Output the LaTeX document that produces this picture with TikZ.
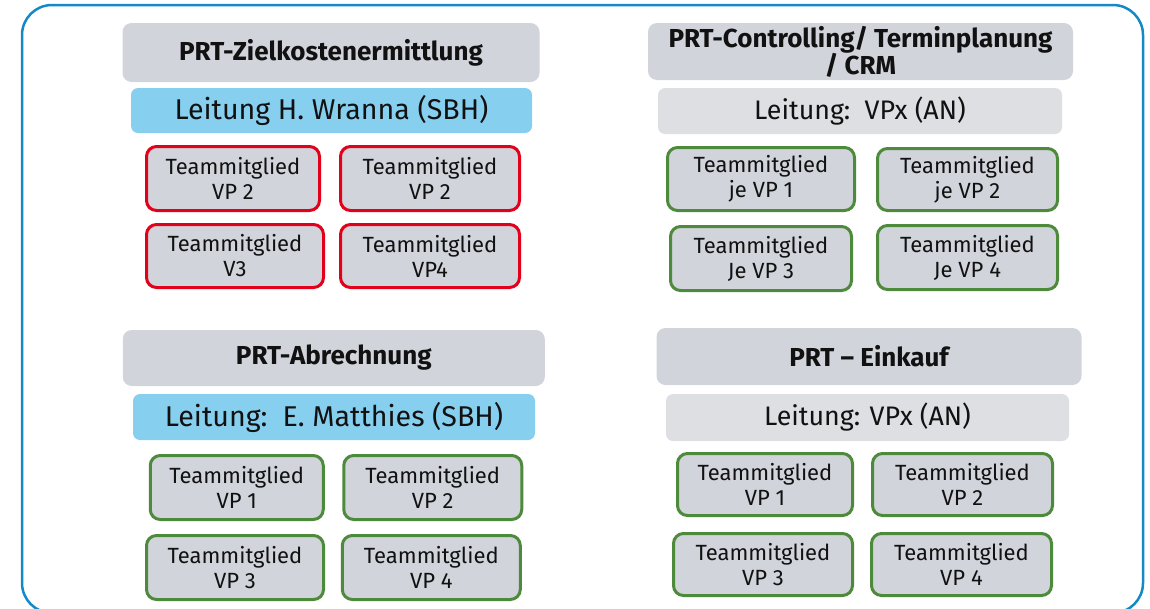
\documentclass[tikz,border=0pt]{standalone}
\usepackage{fontspec}
\setmainfont{Fira Sans}
\definecolor{framebl}{HTML}{1589C5}
\definecolor{headgray}{HTML}{D1D4DB}
\definecolor{leadblue}{HTML}{87CFEF}
\definecolor{leadgray}{HTML}{DDDFE3}
\definecolor{teamred}{HTML}{E2001A}
\definecolor{teamgreen}{HTML}{4E8A3B}
\definecolor{ink}{HTML}{111111}
\tikzset{
  header/.style={fill=headgray, rounded corners=9pt, text=ink, align=center,
    font=\fontsize{26}{27}\selectfont\bfseries, inner sep=0pt},
  leadsbh/.style={fill=leadblue, rounded corners=7pt, text=ink, align=center,
    font=\fontsize{28.6}{30}\selectfont, inner sep=0pt},
  leadan/.style={fill=leadgray, rounded corners=7pt, text=ink, align=center,
    font=\fontsize{26.8}{30}\selectfont, inner sep=0pt},
  member/.style={draw=#1, line width=3pt, fill=headgray, rounded corners=10pt,
    text=ink, align=center, font=\fontsize{22}{25}\selectfont, inner sep=0pt},
  sz/.style 2 args={minimum width=#1, minimum height=#2}
}
\begin{document}
\begin{tikzpicture}[x=1pt,y=-1pt]
\useasboundingbox (0,0) rectangle (1150,608);
% outer frame, its lower edge runs past the page
\draw[framebl, line width=2.5pt, rounded corners=30pt] (22,5) rectangle (1143,613);

% group: Zielkostenermittlung
\node[header, sz={417pt}{59pt}] (zkH) at (331,52.5) {PRT-Zielkostenermittlung};
\node[leadsbh, sz={401pt}{45pt}] (zkL) at (331.5,110.5) {Leitung H. Wranna (SBH)};
\node[member=teamred, sz={173pt}{64pt}] (zk1) at (233,178.5) {Teammitglied\\VP 2};
\node[member=teamred, sz={179pt}{64pt}] (zk2) at (430,178.5) {Teammitglied\\VP 2};
\node[member=teamred, sz={177pt}{63pt}] (zk3) at (235,256) {Teammitglied\\V3};
\node[member=teamred, sz={179pt}{63pt}] (zk4) at (430,256) {Teammitglied\\VP4};

% group: Controlling / Terminplanung / CRM
\node[header, sz={425pt}{57pt}] (ctH) at (860.5,51.5) {PRT-Controlling/ Terminplanung\\/ CRM};
\node[leadan, sz={404pt}{46pt}] (ctL) at (860,111) {Leitung:\ \ VPx (AN)};
\node[member=teamgreen, sz={187pt}{63pt}] (ct1) at (761,179) {Teammitglied\\je VP 1};
\node[member=teamgreen, sz={180pt}{62pt}] (ct2) at (967.5,179.5) {Teammitglied\\je VP 2};
\node[member=teamgreen, sz={181pt}{64pt}] (ct3) at (761,258.5) {Teammitglied\\Je VP 3};
\node[member=teamgreen, sz={180pt}{64pt}] (ct4) at (967.5,257.5) {Teammitglied\\Je VP 4};

% group: Abrechnung
\node[header, sz={422pt}{56pt}] (abH) at (333.75,358) {PRT-Abrechnung};
\node[leadsbh, sz={402pt}{46pt}] (abL) at (334,417) {Leitung:\ \ E. Matthies (SBH)};
\node[member=teamgreen, sz={173pt}{64pt}] (ab1) at (236.75,487.5) {Teammitglied\\VP 1};
\node[member=teamgreen, sz={178pt}{64pt}] (ab2) at (432.75,487.5) {Teammitglied\\VP 2};
\node[member=teamgreen, sz={177pt}{64pt}] (ab3) at (235,567.5) {Teammitglied\\VP 3};
\node[member=teamgreen, sz={178pt}{64pt}] (ab4) at (431.3,567.5) {Teammitglied\\VP 4};

% group: Einkauf
\node[header, sz={425pt}{57pt}] (ekH) at (869,356.5) {PRT -- Einkauf};
\node[leadan, sz={403pt}{47pt}] (ekL) at (867.5,417.5) {Leitung: VPx (AN)};
\node[member=teamgreen, sz={175pt}{62pt}] (ek1) at (765,484.5) {Teammitglied\\VP 1};
\node[member=teamgreen, sz={180pt}{62pt}] (ek2) at (962.5,484.5) {Teammitglied\\VP 2};
\node[member=teamgreen, sz={179pt}{62pt}] (ek3) at (763,564.5) {Teammitglied\\VP 3};
\node[member=teamgreen, sz={180pt}{62pt}] (ek4) at (961.5,564.5) {Teammitglied\\VP 4};
\end{tikzpicture}
\end{document}
